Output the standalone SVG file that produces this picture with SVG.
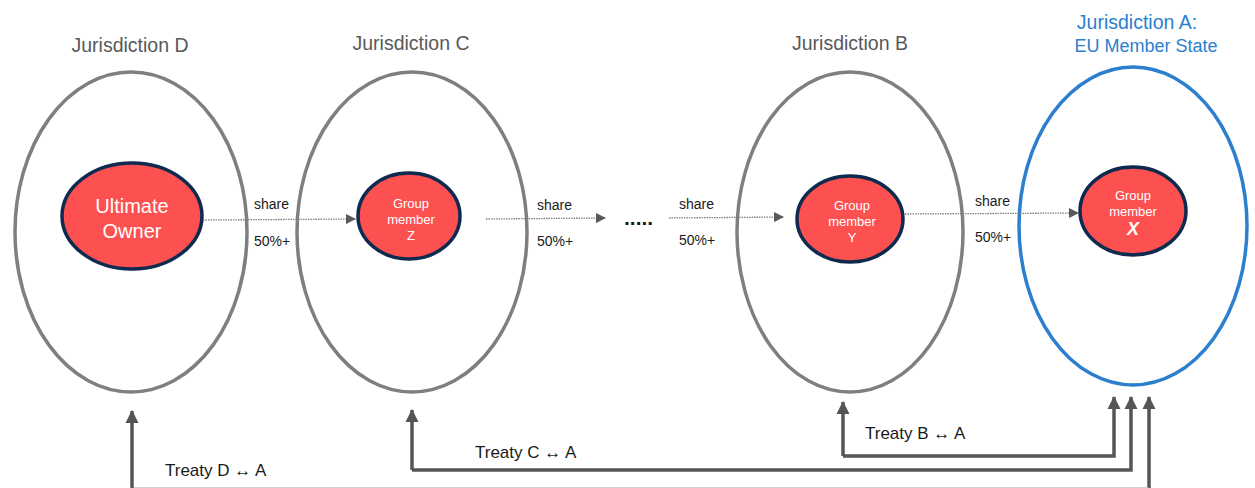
<svg xmlns="http://www.w3.org/2000/svg" width="1255" height="488" viewBox="0 0 1255 488">
<style>
text{font-family:"Liberation Sans",Arial,sans-serif}
.jur{fill:none;stroke:#7f7f7f;stroke-width:3.5}
.jurA{fill:none;stroke:#2b7fce;stroke-width:3.5}
.ent{fill:#fd5050;stroke:#0f2a4f;stroke-width:3.5}
.title{font-size:19.5px;fill:#595959;text-anchor:middle}
.titleA{font-size:19.5px;fill:#2b7fce;text-anchor:middle}
.wt{fill:#fff;text-anchor:middle}
.lbl{font-size:14px;fill:#1a1a1a}
.tlbl{font-size:17px;fill:#1a1a1a}
.share{fill:none;stroke:#7f7f7f;stroke-width:1.3;stroke-dasharray:1.5 1}
.treaty{fill:none;stroke:#555;stroke-width:3.5}
</style>
<defs>
<marker id="sa" markerUnits="userSpaceOnUse" markerWidth="10" markerHeight="10" viewBox="0 0 10 10" refX="10" refY="5" orient="auto">
<path d="M0,0 L10,5 L0,10 Z" fill="#595959"/>
</marker>
<marker id="ta" markerUnits="userSpaceOnUse" markerWidth="14" markerHeight="14" viewBox="0 0 14 14" refX="12" refY="7" orient="auto">
<path d="M0,0.5 L13,7 L0,13.5 Z" fill="#555"/>
</marker>
</defs>
<g id="jurisdiction-d">
<ellipse class="jur" cx="131" cy="232" rx="116" ry="160"/>
<text class="title" x="130" y="52">Jurisdiction D</text>
</g>
<g id="jurisdiction-c">
<ellipse class="jur" cx="412" cy="232" rx="115" ry="160"/>
<text class="title" x="411" y="50">Jurisdiction C</text>
</g>
<g id="jurisdiction-b">
<ellipse class="jur" cx="850" cy="232" rx="113" ry="160"/>
<text class="title" x="850" y="50">Jurisdiction B</text>
</g>
<g id="jurisdiction-a">
<ellipse class="jurA" cx="1133" cy="226" rx="114" ry="159"/>
<text class="titleA" x="1137" y="29">Jurisdiction A:</text>
<text class="titleA" x="1146" y="52" style="font-size:18px">EU Member State</text>
</g>
<g id="ultimate-owner">
<ellipse class="ent" cx="132" cy="216" rx="70" ry="53"/>
<text class="wt" x="132" y="213" font-size="20">Ultimate</text>
<text class="wt" x="132" y="238" font-size="20">Owner</text>
</g>
<g id="group-member-z">
<ellipse class="ent" cx="409" cy="216" rx="51" ry="43"/>
<text class="wt" x="411" y="208" font-size="13">Group</text>
<text class="wt" x="411" y="224" font-size="13">member</text>
<text class="wt" x="411" y="240" font-size="13">Z</text>
</g>
<g id="group-member-y">
<ellipse class="ent" cx="850" cy="219" rx="53" ry="43"/>
<text class="wt" x="852" y="210" font-size="13">Group</text>
<text class="wt" x="852" y="226" font-size="13">member</text>
<text class="wt" x="852" y="242" font-size="13">Y</text>
</g>
<g id="group-member-x">
<ellipse class="ent" cx="1133" cy="211" rx="53" ry="44"/>
<text class="wt" x="1133" y="200" font-size="13">Group</text>
<text class="wt" x="1133" y="216" font-size="13">member</text>
<text class="wt" x="1133" y="235" font-size="18" font-weight="bold" font-style="italic">X</text>
</g>
<g id="connectors">
<line class="share" x1="203" y1="220" x2="356" y2="219" marker-end="url(#sa)"/>
<line class="share" x1="486" y1="219" x2="606" y2="218" marker-end="url(#sa)"/>
<line class="share" x1="669" y1="218" x2="784" y2="217" marker-end="url(#sa)"/>
<line class="share" x1="905" y1="214" x2="1079" y2="213" marker-end="url(#sa)"/>
<text x="624" y="225" font-size="21" font-weight="bold" fill="#1a1a1a">.....</text>
<text class="lbl" x="254" y="209">share</text>
<text class="lbl" x="254" y="246">50%+</text>
<text class="lbl" x="537" y="210">share</text>
<text class="lbl" x="537" y="246">50%+</text>
<text class="lbl" x="679" y="209">share</text>
<text class="lbl" x="679" y="245">50%+</text>
<text class="lbl" x="975" y="206">share</text>
<text class="lbl" x="975" y="242">50%+</text>
<polyline class="treaty" points="843,456 843,402" marker-end="url(#ta)"/>
<polyline class="treaty" points="843,456 1114,456 1114,397" marker-end="url(#ta)"/>
<polyline class="treaty" points="412,470 412,410" marker-end="url(#ta)"/>
<polyline class="treaty" points="412,470 1131,470 1131,397" marker-end="url(#ta)"/>
<polyline class="treaty" points="132,492 132,411" marker-end="url(#ta)"/>
<polyline class="treaty" points="132,492 1149,492 1149,397" marker-end="url(#ta)"/>
<line x1="134" y1="487.5" x2="1148" y2="487.5" stroke="#d0d0d0" stroke-width="1"/>
<text class="tlbl" x="865" y="439">Treaty B ↔ A</text>
<text class="tlbl" x="475" y="458">Treaty C ↔ A</text>
<text class="tlbl" x="165" y="476">Treaty D ↔ A</text>
</g>
</svg>
